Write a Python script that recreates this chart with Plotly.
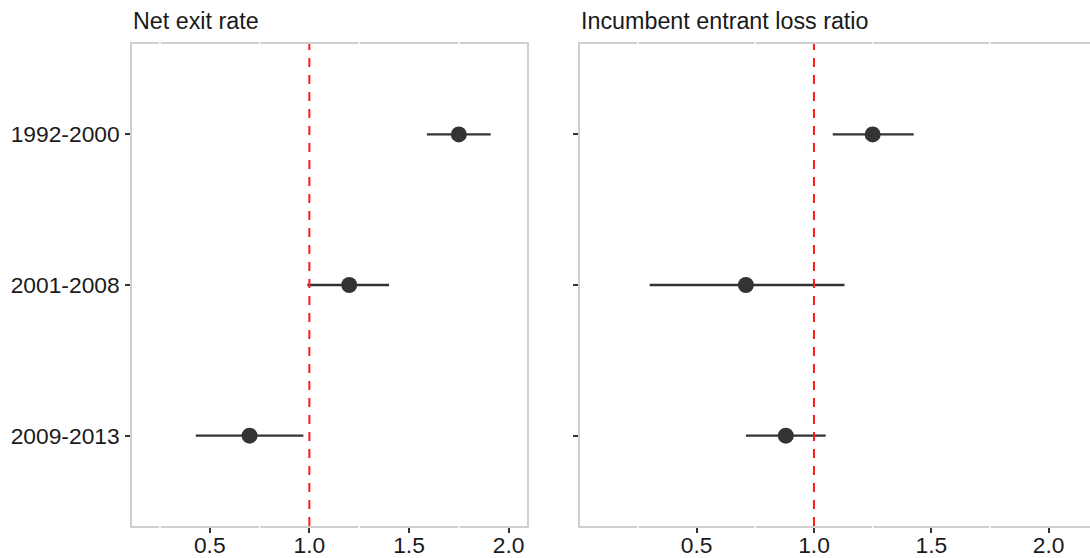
import plotly.graph_objects as go

# Periods shown on the vertical axis (top to bottom)
periods = ["1992-2000", "2001-2008", "2009-2013"]

# Net exit rate: estimate with lower / upper interval bounds
net_exit_est = [1.75, 1.20, 0.70]
net_exit_lo = [1.59, 0.99, 0.43]
net_exit_hi = [1.91, 1.40, 0.97]

# Incumbent entrant loss ratio: estimate with lower / upper interval bounds
loss_ratio_est = [1.25, 0.71, 0.88]
loss_ratio_lo = [1.08, 0.30, 0.71]
loss_ratio_hi = [1.425, 1.13, 1.05]

panel_titles = ["Net exit rate", "Incumbent entrant loss ratio"]
x_ticks = [0.5, 1.0, 1.5, 2.0]
minor_breaks = [0.25, 0.75, 1.25, 1.75]
reference_value = 1.0

FONT = "Liberation Sans, Arial, Helvetica, sans-serif"
INK = "#333333"
BORDER = "#cfcfcf"
TITLE_SIZE = 23.3
TICK_SIZE = 22.8

fig = go.Figure()

panels = [
    (net_exit_est, net_exit_lo, net_exit_hi, "x", "y"),
    (loss_ratio_est, loss_ratio_lo, loss_ratio_hi, "x2", "y2"),
]

for est, lo, hi, xa, ya in panels:
    fig.add_trace(go.Scatter(
        x=est, y=periods, xaxis=xa, yaxis=ya,
        mode="markers",
        marker=dict(size=16, color=INK),
        error_x=dict(
            type="data", symmetric=False,
            array=[h - e for h, e in zip(hi, est)],
            arrayminus=[e - l for e, l in zip(est, lo)],
            color=INK, thickness=2.3, width=0,
        ),
        showlegend=False, hoverinfo="x+y",
    ))

common_x = dict(
    tickmode="array", tickvals=x_ticks, ticktext=[f"{v:.1f}" for v in x_ticks],
    showgrid=False, zeroline=False, automargin=False,
    showline=True, linecolor=BORDER, linewidth=1.5, mirror=True,
    ticks="outside", ticklen=5, tickwidth=1.5, tickcolor=INK,
    ticklabelstandoff=-7,
    tickfont=dict(family=FONT, size=TICK_SIZE, color="#1a1a1a"),
)
common_y = dict(
    type="category", categoryorder="array", categoryarray=periods,
    range=[2.6, -0.6], automargin=False,
    showgrid=False, zeroline=False,
    showline=True, linecolor=BORDER, linewidth=1.5,
    ticks="outside", ticklen=5, tickwidth=1.5, tickcolor=INK,
    ticklabelstandoff=1,
    tickfont=dict(family=FONT, size=TICK_SIZE, color="#1a1a1a"),
)

fig.update_layout(
    width=1090, height=558,
    margin=dict(l=132, r=0, t=44, b=32),
    paper_bgcolor="white", plot_bgcolor="white",
    xaxis=dict(common_x, domain=[0, 0.4123], range=[0.11, 2.092]),
    xaxis2=dict(common_x, domain=[0.4676, 1.0], range=[0.003, 2.176]),
    yaxis=dict(common_y, anchor="x", mirror=True),
    yaxis2=dict(common_y, anchor="x2", mirror=False, showticklabels=False),
)

for xa, ya in [("x", "y"), ("x2", "y2")]:
    # dashed reference line at 1
    fig.add_shape(
        type="line", xref=xa, yref=f"{ya} domain",
        x0=reference_value, x1=reference_value, y0=0, y1=1,
        line=dict(color="#ff1a1a", width=2, dash="9px,8px"),
        layer="above",
    )
    # white minor grid marks breaking the panel border
    for mb in minor_breaks:
        for yb in (0.0, 1.0):
            fig.add_shape(
                type="line", xref=xa, yref=f"{ya} domain",
                x0=mb, x1=mb, y0=yb - 0.005, y1=yb + 0.005,
                line=dict(color="white", width=1.5),
                layer="above",
            )

for title, xa in zip(panel_titles, ["x", "x2"]):
    fig.add_annotation(
        text=title, xref=f"{xa} domain", yref="paper",
        x=0, y=1.0477, xanchor="left", yanchor="middle",
        showarrow=False, font=dict(family=FONT, size=TITLE_SIZE, color="#1a1a1a"),
        borderpad=0,
    )

fig.write_html("out.html")
